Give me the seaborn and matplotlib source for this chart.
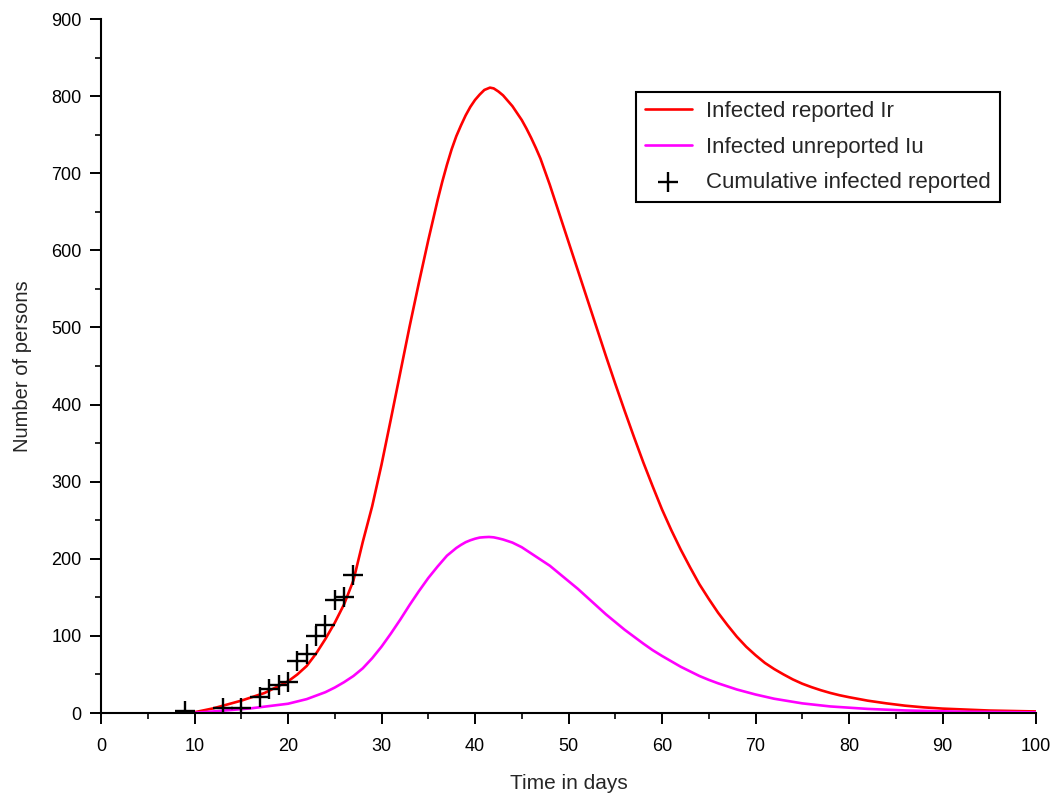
import matplotlib
matplotlib.use("Agg")
import matplotlib.pyplot as plt
from matplotlib.ticker import MultipleLocator
import seaborn as sns
import pandas as pd

# Model output: reported infected (Ir)
days_ir = [9.5, 10, 12, 15, 17.5, 20, 21, 22, 23, 24, 25, 26, 27, 28, 29, 30, 31, 32, 33, 34, 35,
           36, 36.5, 37, 37.5, 38, 38.5, 39, 39.5, 40, 40.5, 41, 41.6, 42, 42.5, 43, 43.5,
           44, 44.5, 45, 45.5, 46, 46.5, 47, 48, 49, 50, 51, 52,
           53, 54, 55, 56, 57, 58, 59, 60, 61, 62, 63, 64, 65, 66, 67, 68, 69, 70,
           71, 72, 73, 74, 75, 76, 77, 78, 79, 80, 82, 84, 86, 88, 90, 95, 100]
ir_vals = [0, 1, 6, 16, 26, 41, 50, 61, 77, 96, 117, 141, 172, 222, 268, 322, 381, 441, 501, 558, 613,
           665, 689, 711, 731, 748, 762, 775, 786, 795, 802, 808, 811, 810, 806, 801, 794,
           787, 778, 769, 758, 746, 733, 719, 685, 648, 611, 574, 537,
           500, 463, 427, 392, 358, 325, 294, 264, 237, 212, 189, 167, 148, 130, 114, 99, 86, 75,
           65, 57, 50, 43.5, 38, 33.5, 29.5, 26, 23, 20.5, 16, 12.5, 9.5, 7.3, 5.7, 3.2, 2]

# Model output: unreported infected (Iu)
days_iu = [9.5, 12, 16, 20, 22, 24, 25, 26, 27, 28, 29, 30, 31, 32, 33, 34, 35, 36,
           37, 38, 38.5, 39, 39.5, 40, 40.5, 41, 41.5, 42, 42.5, 43, 44, 45, 46, 47, 48, 49,
           50, 51, 52, 53, 54, 55, 56, 57, 58, 59, 60, 61, 62, 63, 64, 65, 66, 67, 68, 70,
           72, 75, 78, 82, 86, 92, 100]
iu_vals = [0, 2, 6, 12, 18, 27, 33, 40, 48, 58, 71, 86, 103, 121, 140, 158, 175, 190,
           204, 214, 218, 221.5, 224, 226, 227.5, 228, 228.3, 227.8, 226.5, 225, 221, 215, 207, 199,
           191, 181, 171, 161, 150, 139, 128, 118, 108, 99, 90, 81.5, 74, 67, 60, 54, 48, 43,
           38.5, 34.5, 30.5, 24, 18.5, 12.5, 8.5, 5.3, 3.3, 1.7, 0.8]

# Observed cumulative reported cases
obs_days = [9, 13, 15, 17, 18, 19, 20, 21, 22, 23, 24, 25, 26, 27]
obs_vals = [2, 6, 7, 21, 31, 36, 40, 67, 76, 100, 114, 147, 151, 179]

sns.set_style("ticks")
plt.rcParams["font.family"] = ["Liberation Sans", "DejaVu Sans"]

fig = plt.figure(figsize=(10.64, 7.98), dpi=100)
ax = fig.add_axes([101 / 1064, 85 / 798, 935 / 1064, 694 / 798])

df_ir = pd.DataFrame({"t": days_ir, "v": ir_vals})
df_iu = pd.DataFrame({"t": days_iu, "v": iu_vals})
df_obs = pd.DataFrame({"t": obs_days, "v": obs_vals})

sns.lineplot(data=df_ir, x="t", y="v", ax=ax, color="#ff0000", linewidth=1.9,
             estimator=None, label="Infected reported Ir")
sns.lineplot(data=df_iu, x="t", y="v", ax=ax, color="#ff00ff", linewidth=1.9,
             estimator=None, label="Infected unreported Iu")
sns.scatterplot(data=df_obs, x="t", y="v", ax=ax, marker="+", s=200, color="black",
                linewidth=1.7, label="Cumulative infected reported", zorder=3)

ax.set_xlim(0, 100)
ax.set_ylim(0, 900)
ax.xaxis.set_major_locator(MultipleLocator(10))
ax.xaxis.set_minor_locator(MultipleLocator(5))
ax.yaxis.set_major_locator(MultipleLocator(100))
ax.yaxis.set_minor_locator(MultipleLocator(50))
ax.tick_params(which="major", length=8, width=1.4, labelsize=13, colors="black")
ax.tick_params(which="minor", length=4.5, width=1.4)
ax.tick_params(axis="x", which="major", pad=10)
ax.tick_params(axis="y", which="major", pad=6)

for side in ("top", "right"):
    ax.spines[side].set_visible(False)
for side in ("left", "bottom"):
    ax.spines[side].set_linewidth(1.5)
    ax.spines[side].set_color("black")

ax.set_xlabel("Time in days", fontsize=15, labelpad=14)
ax.set_ylabel("Number of persons", fontsize=14.5, labelpad=13.5)

leg = ax.legend(loc="upper left", bbox_to_anchor=(636 / 1064, 1 - 92 / 798),
                bbox_transform=fig.transFigure, borderaxespad=0, fontsize=16,
                frameon=True, fancybox=False, edgecolor="black", framealpha=1,
                handlelength=2.1, labelspacing=0.66, borderpad=0.4, handletextpad=0.65)
leg.get_frame().set_linewidth(1.5)

fig.savefig("out.png", dpi=100, facecolor="white")
